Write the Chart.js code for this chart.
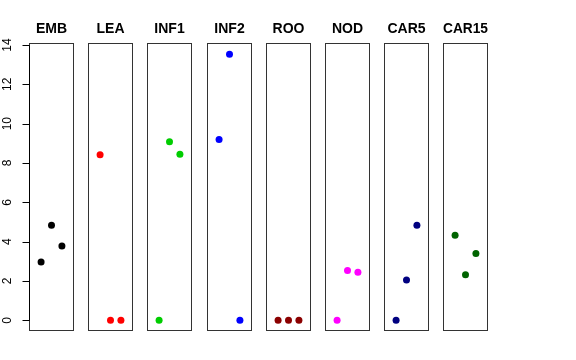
<!DOCTYPE html>
<html><head><meta charset="utf-8">
<script src="https://cdn.jsdelivr.net/npm/chart.js@4"></script>
<style>
html,body{margin:0;padding:0;background:#fff;width:576px;height:360px;overflow:hidden;position:relative}
canvas{position:absolute;top:0}
</style>
</head><body>
<script>
const categories = ['EMB','LEA','INF1','INF2','ROO','NOD','CAR5','CAR15'];
const positions = [1, 2, 3];
const EMB   = [2.96, 4.83, 3.78];
const LEA   = [8.42, 0, 0];
const INF1  = [0, 9.08, 8.45];
const INF2  = [9.2, 13.53, 0];
const ROO   = [0, 0, 0];
const NOD   = [0, 2.54, 2.44];
const CAR5  = [0, 2.05, 4.84];
const CAR15 = [4.33, 2.32, 3.4];
const seriesValues = [EMB, LEA, INF1, INF2, ROO, NOD, CAR5, CAR15];
const colors = ['#000000','#FF0000','#00CD00','#0000FF','#8B0000','#FF00FF','#000080','#006400'];
const yTicks = [0, 2, 4, 6, 8, 10, 12, 14];

const FONT = '"Liberation Sans", Arial, Helvetica, sans-serif';

const boxPlugin = {
  id: 'box',
  afterDraw(chart) {
    const a = chart.chartArea, ctx = chart.ctx;
    ctx.save();
    ctx.strokeStyle = '#333';
    ctx.lineWidth = 1;
    ctx.strokeRect(Math.round(a.left) + 0.5, Math.round(a.top) + 0.5,
                   Math.round(a.right - a.left) - 1, Math.round(a.bottom - a.top) - 1);
    ctx.restore();
  }
};

const axisPlugin = {
  id: 'yaxis',
  afterDraw(chart) {
    const ys = chart.scales.y, ctx = chart.ctx;
    const L = Math.round(chart.chartArea.left) + 0.5;
    ctx.save();
    ctx.strokeStyle = '#000';
    ctx.lineWidth = 1;
    ctx.beginPath();
    const y0 = Math.round(ys.getPixelForValue(yTicks[0])) + 0.5;
    const y1 = Math.round(ys.getPixelForValue(yTicks[yTicks.length - 1])) + 0.5;
    ctx.moveTo(L, y0); ctx.lineTo(L, y1);
    yTicks.forEach(v => {
      const py = Math.round(ys.getPixelForValue(v)) + 0.5;
      ctx.moveTo(L - 7, py); ctx.lineTo(L, py);
    });
    ctx.stroke();
    ctx.fillStyle = '#000';
    ctx.font = '12px ' + FONT;
    ctx.textAlign = 'center';
    ctx.textBaseline = 'middle';
    yTicks.forEach(v => {
      const py = ys.getPixelForValue(v);
      ctx.save();
      ctx.translate(8, py);
      ctx.rotate(-Math.PI / 2);
      ctx.fillText(String(v), 0, 0);
      ctx.restore();
    });
    ctx.restore();
  }
};

categories.forEach((cat, i) => {
  const panelLeft = Math.round(29 + 59.2 * i);
  const padL = i === 0 ? panelLeft : 8;
  const padR = 8;
  const w = padL + 45 + padR;
  const cv = document.createElement('canvas');
  cv.width = w; cv.height = 360;
  cv.style.width = w + 'px'; cv.style.height = '360px';
  cv.style.left = (panelLeft - padL) + 'px';
  document.body.appendChild(cv);
  const vals = seriesValues[i];
  const col = colors[i];
  new Chart(cv, {
    type: 'scatter',
    data: { datasets: [{
      data: positions.map((x, j) => ({ x: x, y: vals[j] })),
      backgroundColor: col, borderColor: col,
      pointRadius: 3.5, pointHoverRadius: 3.5, borderWidth: 0
    }]},
    options: {
      responsive: false, animation: false, events: [],
      layout: { padding: { left: padL, right: padR, top: 0, bottom: 29 } },
      scales: {
        x: { display: false, min: -0.16, max: 4.16 },
        y: { display: false, min: -0.542, max: 14.1 }
      },
      plugins: {
        legend: { display: false },
        tooltip: { enabled: false },
        title: {
          display: true, text: cat, color: '#000',
          font: { family: FONT, size: 14, weight: 'bold', lineHeight: 1.2 },
          padding: { top: 20.9, bottom: 5.3 }
        }
      }
    },
    plugins: i === 0 ? [boxPlugin, axisPlugin] : [boxPlugin]
  });
});
</script>
</body></html>
